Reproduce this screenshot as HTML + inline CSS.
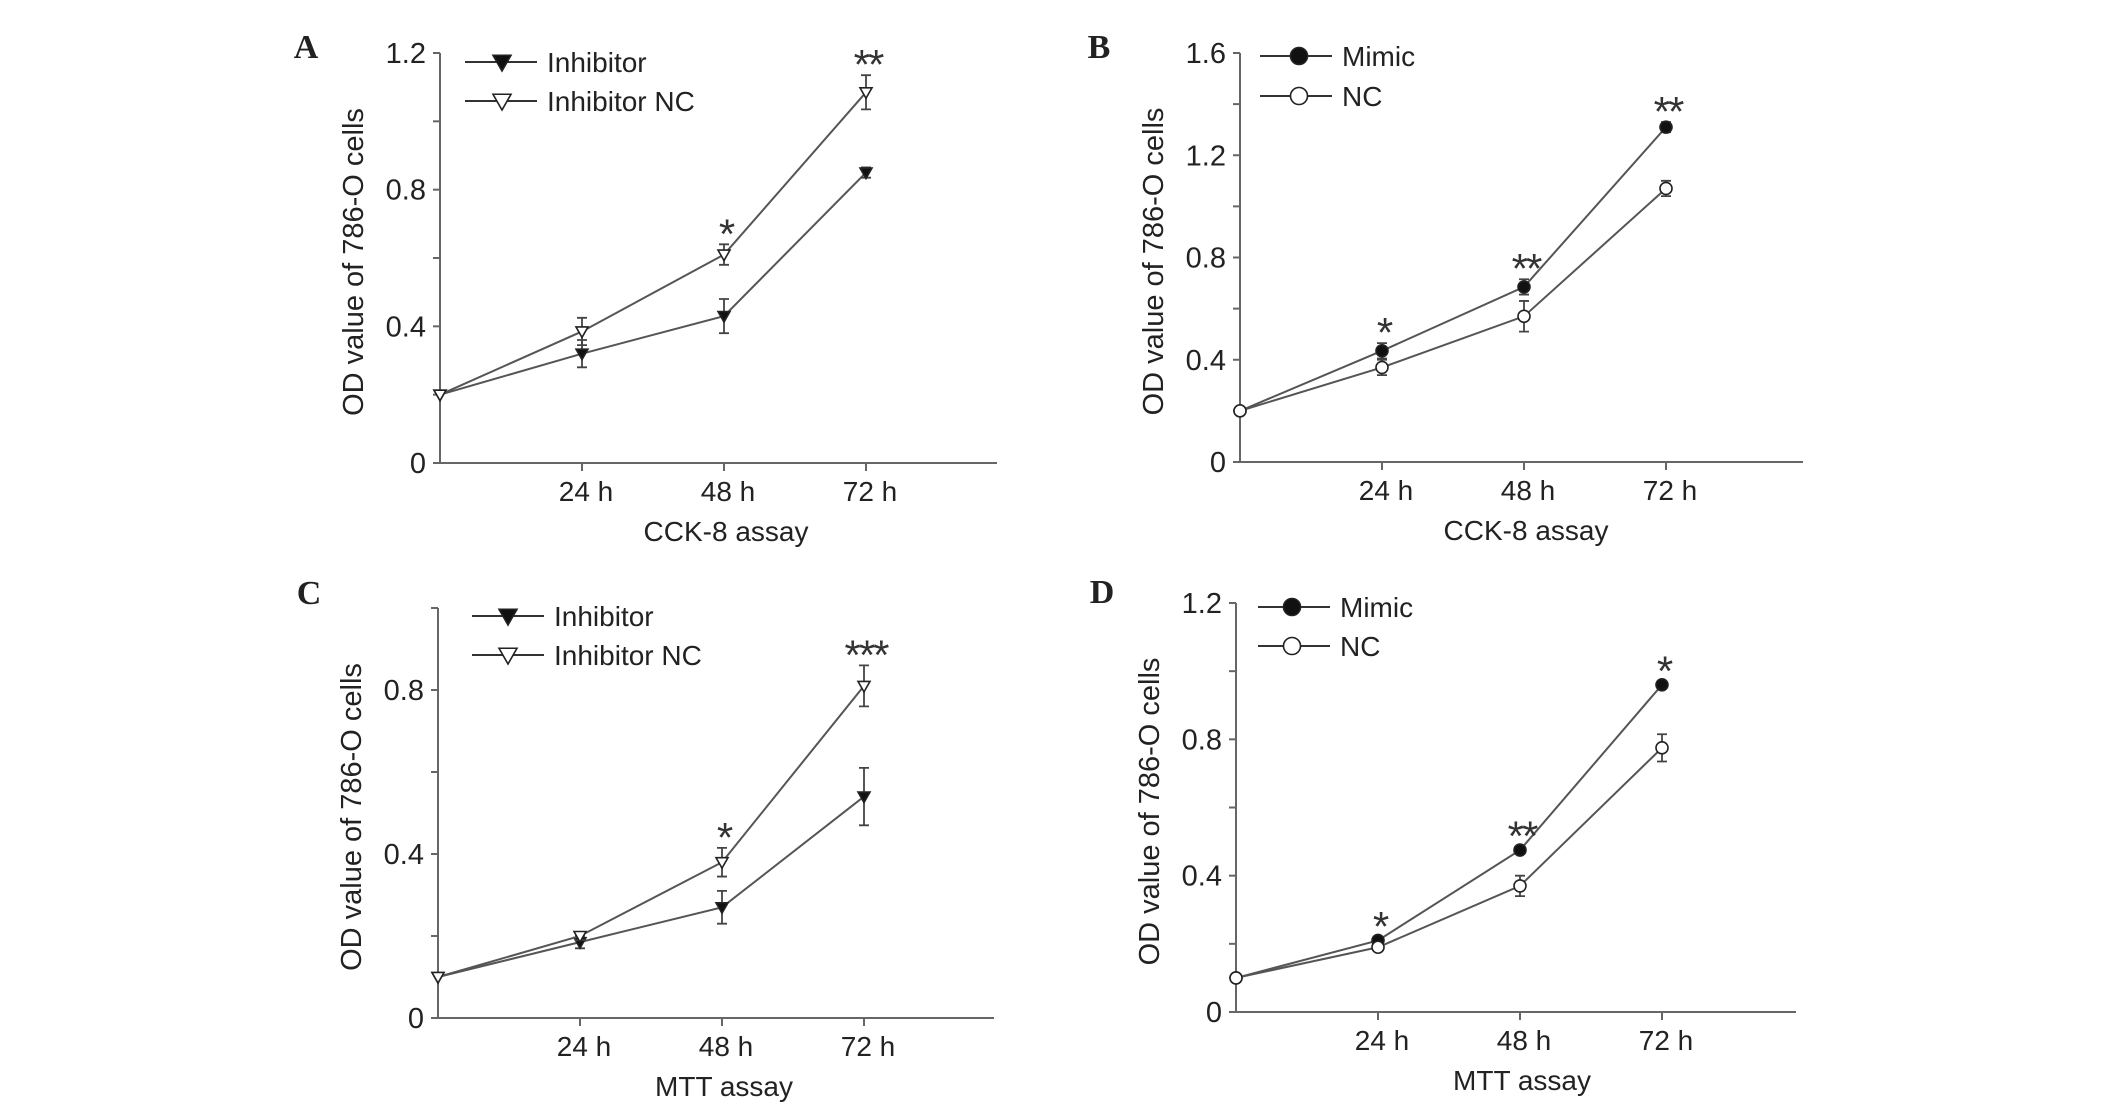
<!DOCTYPE html>
<html><head><meta charset="utf-8"><style>
html,body{margin:0;padding:0;background:#fff;}
svg{display:block;font-family:"Liberation Sans",Arial,sans-serif;}
</style></head><body>
<svg id="fig" width="2126" height="1111" viewBox="0 0 2126 1111" xmlns="http://www.w3.org/2000/svg"></svg>
<script>
// ---- data ----
const timeLabels = ["24 h","48 h","72 h"];
const timePoints = [0,24,48,72];
// Panel A (CCK-8, inhibitor)
const aInhibitor = [0.2,0.32,0.43,0.85];
const aInhibitorErr = [0,0.04,0.05,0.015];
const aInhibitorNC = [0.2,0.385,0.61,1.085];
const aInhibitorNCErr = [0,0.04,0.03,0.05];
const aStars = ["","","*","**"];
const aTicks = [0,0.4,0.8,1.2];
// Panel B (CCK-8, mimic)
const bMimic = [0.2,0.435,0.685,1.31];
const bMimicErr = [0,0.03,0.03,0.02];
const bNC = [0.2,0.37,0.57,1.07];
const bNCErr = [0,0.03,0.06,0.03];
const bStars = ["","*","**","**"];
const bTicks = [0,0.4,0.8,1.2,1.6];
// Panel C (MTT, inhibitor)
const cInhibitor = [0.1,0.185,0.27,0.54];
const cInhibitorErr = [0,0.015,0.04,0.07];
const cInhibitorNC = [0.1,0.2,0.38,0.81];
const cInhibitorNCErr = [0,0.01,0.035,0.05];
const cStars = ["","","*","***"];
const cTicks = [0,0.4,0.8];
// Panel D (MTT, mimic)
const dMimic = [0.1,0.21,0.475,0.96];
const dMimicErr = [0,0.01,0.01,0.01];
const dNC = [0.1,0.19,0.37,0.775];
const dNCErr = [0,0.01,0.03,0.04];
const dStars = ["","*","**","*"];
const dTicks = [0,0.4,0.8,1.2];

const NS="http://www.w3.org/2000/svg";
const svg=document.getElementById('fig');
function mk(tag,attrs,parent){const e=document.createElementNS(NS,tag);for(const k in attrs)e.setAttribute(k,attrs[k]);(parent||svg).appendChild(e);return e;}

function marker(g,kind,cx,cy,s){
  let e;
  if(kind==='triFill'||kind==='triOpen'){
    e=mk('polygon',{points:`${cx-s},${cy-s*0.75} ${cx+s},${cy-s*0.75} ${cx},${cy+s}`,fill:kind==='triFill'?'#111':'#fff',stroke:'#222','stroke-width':1.6},g);
  } else {
    e=mk('circle',{cx:cx,cy:cy,r:s,fill:kind==='circFill'?'#111':'#fff',stroke:'#222','stroke-width':1.6},g);
  }
  return e;
}

function panel(p){
  const g=mk('g',{});
  
  
  const X=t=>p.x0+(p.x24-p.x0)*t/24;
  const Y=v=>p.y0-(p.y0-p.yTop)*v/p.yMax;
  const L=mk('text',{x:p.lx,y:p.ly,'font-family':'"Liberation Serif",serif','font-weight':'bold','font-size':34,'text-anchor':'middle',fill:'#222'},g);
  L.textContent=p.id;
  
  
  const ya=mk('line',{x1:p.x0,y1:p.yTop,x2:p.x0,y2:p.y0,stroke:'#666','stroke-width':2},g);
  
  
  const xa=mk('line',{x1:p.x0-6,y1:p.y0,x2:p.xEnd,y2:p.y0,stroke:'#666','stroke-width':2},g);
  
  
  for(let v=0;v<=p.yMax+1e-9;v+=0.2){
    mk('line',{x1:p.x0-7,y1:Y(v),x2:p.x0,y2:Y(v),stroke:'#666','stroke-width':2},g);
  }
  p.ticks.forEach(v=>{
    const t=mk('text',{x:p.x0-14,y:Y(v)+10,'font-size':29,'text-anchor':'end',fill:'#222'},g);
    t.textContent=(v===0?'0':v.toFixed(1));
    
    
  });
  timeLabels.forEach((lab,i)=>{
    const x=X(timePoints[i+1]);
    mk('line',{x1:x,y1:p.y0,x2:x,y2:p.y0+8,stroke:'#666','stroke-width':2},g);
    const t=mk('text',{x:x+4,y:p.y0+38,'font-size':28,'text-anchor':'middle',fill:'#222'},g);
    t.textContent=lab;
    
    
  });
  const xt=mk('text',{x:X(48)+2,y:p.y0+78,'font-size':28,'text-anchor':'middle',fill:'#222'},g);
  xt.textContent=p.xTitle;
  
  
  const yt=mk('text',{x:0,y:0,'font-size':29,'text-anchor':'middle',fill:'#222',transform:`translate(${p.x0-77},${(p.yTop+p.y0)/2+4}) rotate(-90)`},g);
  yt.textContent='OD value of 786-O cells';
  
  
  p.series.forEach((s,si)=>{
    const sg=mk('g',{},g);
    
    
    const pts=s.vals.map((v,i)=>X(timePoints[i])+','+Y(v)).join(' ');
    const pl=mk('polyline',{points:pts,fill:'none',stroke:'#555','stroke-width':2},sg);
    
    
    s.vals.forEach((v,i)=>{
      const x=X(timePoints[i]);const e=s.err[i];
      if(e>0){
        const eb=mk('path',{d:`M${x},${Y(v+e)}V${Y(v-e)}M${x-5},${Y(v+e)}H${x+5}M${x-5},${Y(v-e)}H${x+5}`,stroke:'#444','stroke-width':1.8,fill:'none'},sg);
        
        
      }
      const m=marker(sg,s.kind,x,Y(v),6);
      
      
    });
  });
  p.stars.forEach((st,i)=>{
    if(!st)return;
    let top=Math.max(...p.series.map(s=>s.vals[i]+s.err[i]));
    const t=mk('text',{x:X(timePoints[i])+2,y:Y(top)+4,'font-size':42,'text-anchor':'middle',fill:'#333','letter-spacing':-2},g);
    t.textContent=st;
    
    
  });
  p.series.forEach((s,si)=>{
    const ly=p.legY[si];
    const lg=mk('g',{},g);
    
    
    mk('line',{x1:p.legX1,y1:ly,x2:p.legX2,y2:ly,stroke:'#333','stroke-width':2},lg);
    marker(lg,s.kind,p.legM,ly,s.kind.startsWith('tri')?9:8.5);
    const t=mk('text',{x:p.legT,y:ly+10,'font-size':28,fill:'#222'},lg);
    t.textContent=s.name;
  });
}

panel({id:'A',lx:306,ly:58,x0:440,x24:582,xEnd:997,y0:463,yTop:53,yMax:1.2,ticks:aTicks,xTitle:'CCK-8 assay',
  series:[{name:'Inhibitor',kind:'triFill',vals:aInhibitor,err:aInhibitorErr},{name:'Inhibitor NC',kind:'triOpen',vals:aInhibitorNC,err:aInhibitorNCErr}],
  stars:aStars,legY:[62,101],legX1:465,legX2:537,legM:502,legT:547});
panel({id:'B',lx:1099,ly:58,x0:1240,x24:1382,xEnd:1803,y0:462,yTop:53,yMax:1.6,ticks:bTicks,xTitle:'CCK-8 assay',
  series:[{name:'Mimic',kind:'circFill',vals:bMimic,err:bMimicErr},{name:'NC',kind:'circOpen',vals:bNC,err:bNCErr}],
  stars:bStars,legY:[56,96],legX1:1260,legX2:1332,legM:1299,legT:1342});
panel({id:'C',lx:309,ly:604,x0:438,x24:580,xEnd:994,y0:1018,yTop:608,yMax:1.0,ticks:cTicks,xTitle:'MTT assay',
  series:[{name:'Inhibitor',kind:'triFill',vals:cInhibitor,err:cInhibitorErr},{name:'Inhibitor NC',kind:'triOpen',vals:cInhibitorNC,err:cInhibitorNCErr}],
  stars:cStars,legY:[616,655],legX1:472,legX2:544,legM:508,legT:554});
panel({id:'D',lx:1102,ly:603,x0:1236,x24:1378,xEnd:1796,y0:1012,yTop:603,yMax:1.2,ticks:dTicks,xTitle:'MTT assay',
  series:[{name:'Mimic',kind:'circFill',vals:dMimic,err:dMimicErr},{name:'NC',kind:'circOpen',vals:dNC,err:dNCErr}],
  stars:dStars,legY:[607,646],legX1:1258,legX2:1330,legM:1292,legT:1340});
</script>
</body></html>
